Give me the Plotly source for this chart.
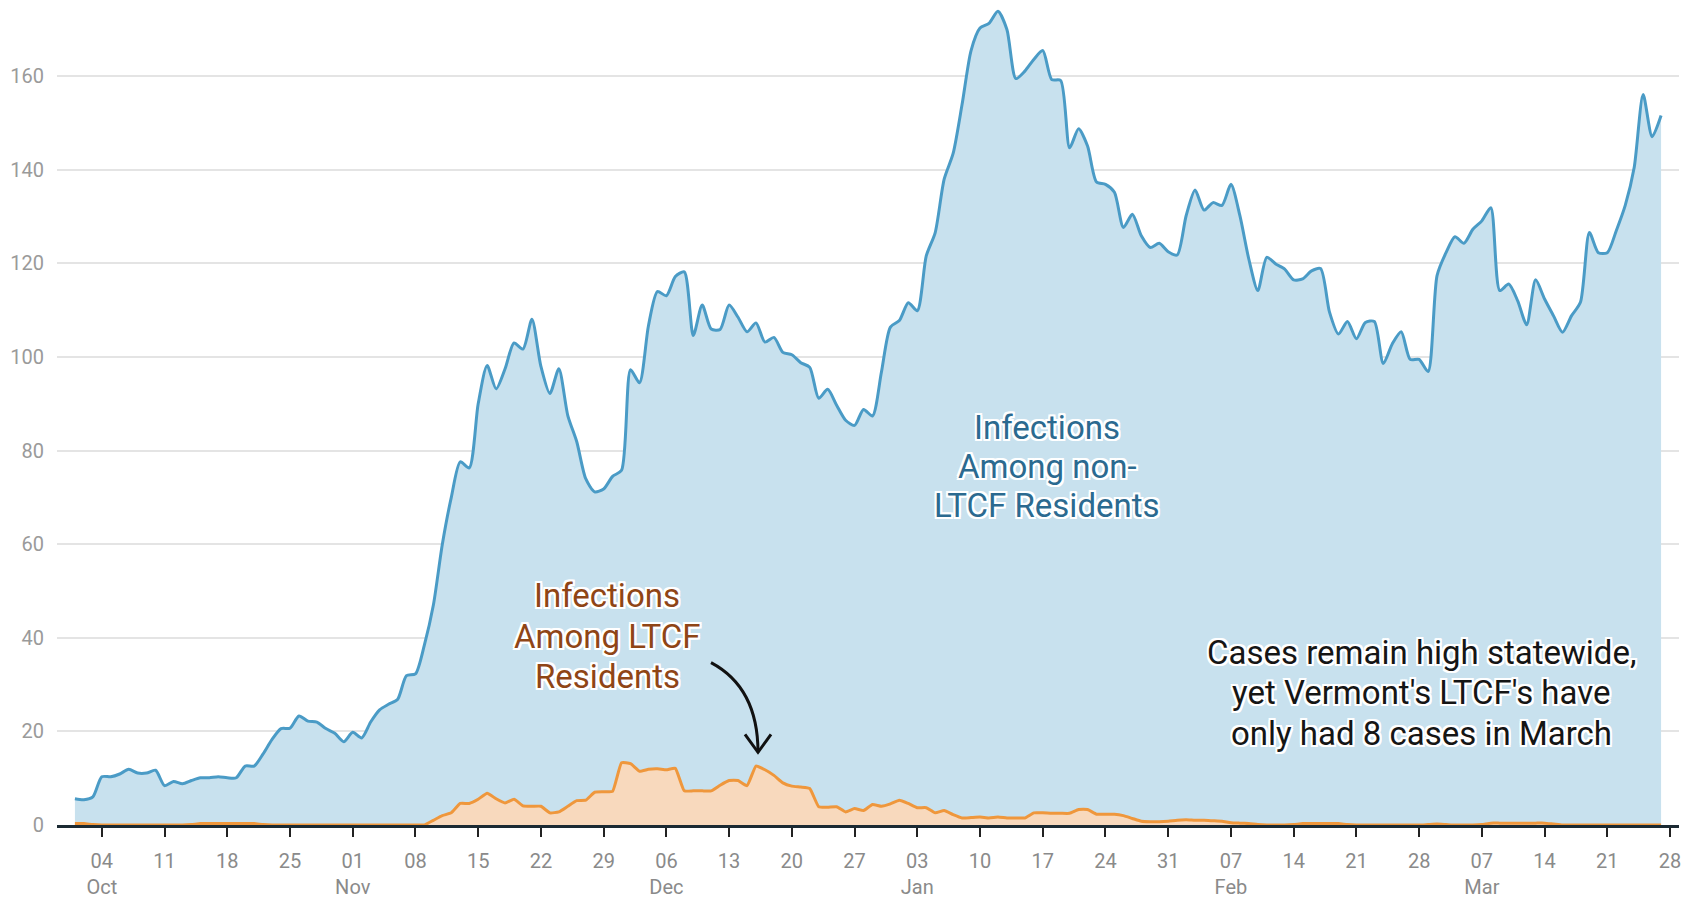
import pandas as pd
import plotly.graph_objects as go

# ---------------- data (7-day average daily infections) ----------------
start_date = "2020-10-01"

non_ltcf = [
    5.6, 5.4, 6.0, 10.3, 10.3, 10.9, 11.9, 11.1, 11.1, 11.7,
    8.4, 9.3, 8.8, 9.5, 10.1, 10.1, 10.3, 10.1, 10.1, 12.6,
    12.6, 15.2, 18.3, 20.6, 20.7, 23.3, 22.2, 22.0, 20.6, 19.6,
    17.8, 19.8, 18.6, 22.0, 24.6, 25.8, 26.8, 31.9, 32.3, 38.5,
    47.0, 60.0, 70.0, 77.6, 76.3, 90.0, 98.2, 93.2, 97.5, 103.0,
    101.7, 108.1, 98.0, 92.2, 97.5, 87.5, 81.9, 74.0, 71.2, 71.8,
    74.5, 75.8, 97.3, 94.5, 106.7, 114.0, 113.1, 117.2, 118.2, 104.6,
    111.1, 106.0, 105.9, 111.1, 108.5, 105.4, 107.3, 103.2, 104.2, 101.0,
    100.5, 98.8, 97.8, 91.2, 93.1, 89.7, 86.5, 85.4, 88.8, 87.4,
    96.8, 106.4, 107.8, 111.6, 109.9, 121.6, 126.6, 138.0, 143.5, 154.0,
    165.5, 170.3, 171.3, 173.9, 170.0, 159.5, 161.1, 163.6, 165.5, 159.3,
    159.1, 144.7, 148.8, 145.1, 137.4, 136.9, 135.2, 127.7, 130.5, 125.9,
    123.4, 124.3, 122.5, 121.8, 130.2, 135.7, 131.4, 133.0, 132.4, 136.9,
    130.2, 120.9, 114.2, 121.3, 119.9, 118.8, 116.5, 116.7, 118.4, 118.9,
    109.6, 104.9, 107.6, 103.9, 107.4, 107.6, 98.6, 102.8, 105.4, 99.5,
    99.5, 96.9, 117.4, 122.3, 125.7, 124.3, 127.3, 129.1, 131.9, 114.2,
    115.6, 112.0, 106.9, 116.5, 112.4, 108.8, 105.3, 108.8, 111.7, 126.6,
    122.3, 122.3, 127.0, 132.4, 140.5, 156.1, 147.1, 151.6,
]

ltcf = [
    0.3, 0.3, 0.1, 0.0, 0.0, 0.0, 0.0, 0.0, 0.0, 0.0,
    0.0, 0.0, 0.0, 0.1, 0.3, 0.3, 0.3, 0.3, 0.3, 0.3,
    0.3, 0.1, 0.0, 0.0, 0.0, 0.0, 0.0, 0.0, 0.0, 0.0,
    0.0, 0.0, 0.0, 0.0, 0.0, 0.0, 0.0, 0.0, 0.0, 0.0,
    1.0, 2.0, 2.6, 4.6, 4.6, 5.5, 6.8, 5.6, 4.7, 5.5,
    4.1, 4.0, 4.0, 2.6, 2.8, 4.0, 5.2, 5.3, 7.0, 7.1,
    7.2, 13.3, 13.1, 11.5, 11.9, 12.0, 11.8, 12.1, 7.3, 7.3,
    7.3, 7.3, 8.5, 9.5, 9.5, 8.4, 12.6, 11.8, 10.6, 9.0,
    8.3, 8.1, 7.8, 3.9, 3.8, 3.9, 2.8, 3.5, 3.1, 4.4,
    4.0, 4.5, 5.3, 4.6, 3.7, 3.7, 2.6, 3.1, 2.2, 1.5,
    1.6, 1.7, 1.5, 1.7, 1.5, 1.5, 1.5, 2.6, 2.6, 2.5,
    2.5, 2.5, 3.3, 3.3, 2.3, 2.3, 2.3, 2.0, 1.4, 0.8,
    0.7, 0.7, 0.8, 1.0, 1.1, 1.0, 1.0, 0.9, 0.8, 0.5,
    0.4, 0.3, 0.1, 0.0, 0.0, 0.0, 0.1, 0.3, 0.3, 0.3,
    0.3, 0.3, 0.1, 0.0, 0.0, 0.0, 0.0, 0.0, 0.0, 0.0,
    0.0, 0.1, 0.2, 0.1, 0.0, 0.0, 0.0, 0.1, 0.4, 0.4,
    0.4, 0.4, 0.4, 0.4, 0.4, 0.2, 0.0, 0.0, 0.0, 0.0,
    0.0, 0.0, 0.0, 0.0, 0.0, 0.0, 0.0, 0.0,
]

tick_dates = [
    "2020-10-04", "2020-10-11", "2020-10-18", "2020-10-25", "2020-11-01",
    "2020-11-08", "2020-11-15", "2020-11-22", "2020-11-29", "2020-12-06",
    "2020-12-13", "2020-12-20", "2020-12-27", "2021-01-03", "2021-01-10",
    "2021-01-17", "2021-01-24", "2021-01-31", "2021-02-07", "2021-02-14",
    "2021-02-21", "2021-02-28", "2021-03-07", "2021-03-14", "2021-03-21",
    "2021-03-28",
]
tick_text = [
    "04<br>Oct", "11", "18", "25", "01<br>Nov", "08", "15", "22", "29",
    "06<br>Dec", "13", "20", "27", "03<br>Jan", "10", "17", "24", "31",
    "07<br>Feb", "14", "21", "28", "07<br>Mar", "14", "21", "28",
]
y_ticks = [0, 20, 40, 60, 80, 100, 120, 140, 160]

label_non_ltcf = ["Infections", "Among non-", "LTCF Residents"]
label_ltcf = ["Infections", "Among LTCF", "Residents"]
label_note = ["Cases remain high statewide,", "yet Vermont's LTCF's have",
              "only had 8 cases in March"]

dates = pd.date_range(start_date, periods=len(non_ltcf), freq="D")

# ---------------- figure ----------------
W, H = 1685, 899
ML, MR, MT, MB = 57, 6, 0, 71
PW, PH = W - ML - MR, H - MT - MB

FONT = "Roboto, 'Noto Sans', Arial, sans-serif"
HALO = ("-2px -2px 0 #fff, 2px -2px 0 #fff, -2px 2px 0 #fff, 2px 2px 0 #fff, "
        "0 2px 0 #fff, 0 -2px 0 #fff, 2px 0 0 #fff, -2px 0 0 #fff")

fig = go.Figure()
fig.add_trace(go.Scatter(
    x=dates, y=non_ltcf, mode="lines", name="non-LTCF",
    line=dict(color="#4a9bc6", width=3, shape="spline", smoothing=0.7),
    fill="tozeroy", fillcolor="#c8e1ee", hoverinfo="skip",
))
fig.add_trace(go.Scatter(
    x=dates, y=ltcf, mode="lines", name="LTCF",
    line=dict(color="#ef973c", width=3, shape="spline", smoothing=0.4),
    fill="tozeroy", fillcolor="#f8d9bd", hoverinfo="skip",
))


def px2paper(xp, yp):
    return (xp - ML) / PW, (H - MB - yp) / PH


# curved arrow (pixel positions converted to paper coordinates)
sx, sy = px2paper(711, 665)
cx, cy = px2paper(758, 690)
ex, ey = px2paper(758, 755)
lx, ly = px2paper(745, 737)
rx, ry = px2paper(771, 737)
fig.add_shape(type="path", xref="paper", yref="paper",
              path=f"M {sx},{sy} Q {cx},{cy} {ex},{ey}",
              line=dict(color="#111", width=3))
fig.add_shape(type="path", xref="paper", yref="paper",
              path=f"M {lx},{ly} L {ex},{ey} L {rx},{ry}",
              line=dict(color="#111", width=3))


def add_block(lines, cx_px, ys_px, color):
    for txt, yp in zip(lines, ys_px):
        px, py = px2paper(cx_px, yp)
        fig.add_annotation(
            x=px, y=py, xref="paper", yref="paper", text=txt,
            showarrow=False, xanchor="center", yanchor="middle",
            font=dict(family=FONT, size=33, color=color, shadow=HALO),
        )


add_block(label_non_ltcf, 1047, [429, 468, 507], "#2b6a90")
add_block(label_ltcf, 607, [598, 639, 679], "#8f4516")
add_block(label_note, 1421, [655, 695, 736], "#151515")

fig.update_layout(
    width=W, height=H,
    margin=dict(l=ML, r=MR, t=MT, b=MB),
    paper_bgcolor="white", plot_bgcolor="white",
    showlegend=False, hovermode=False,
    font=dict(family=FONT),
)
fig.update_xaxes(
    type="date", range=["2020-09-29", "2021-03-29"],
    tickvals=tick_dates, ticktext=tick_text,
    tickfont=dict(family=FONT, size=20, color="#8a8a8a"),
    ticks="outside", ticklen=9, tickwidth=2, tickcolor="#222",
    showline=True, linecolor="#1b2a33", linewidth=2.5,
    showgrid=False, zeroline=False, ticklabelstandoff=7,
)
fig.update_yaxes(
    range=[0, 176.3], tickvals=y_ticks,
    tickfont=dict(family=FONT, size=20, color="#9a9a9a"),
    showgrid=True, gridcolor="#e4e4e4", gridwidth=1.5,
    zeroline=False, showline=False, ticks="", ticklabelstandoff=12,
)

fig.write_html("out.html", config={"displayModeBar": False},
               post_script="document.body.style.margin='0';")
